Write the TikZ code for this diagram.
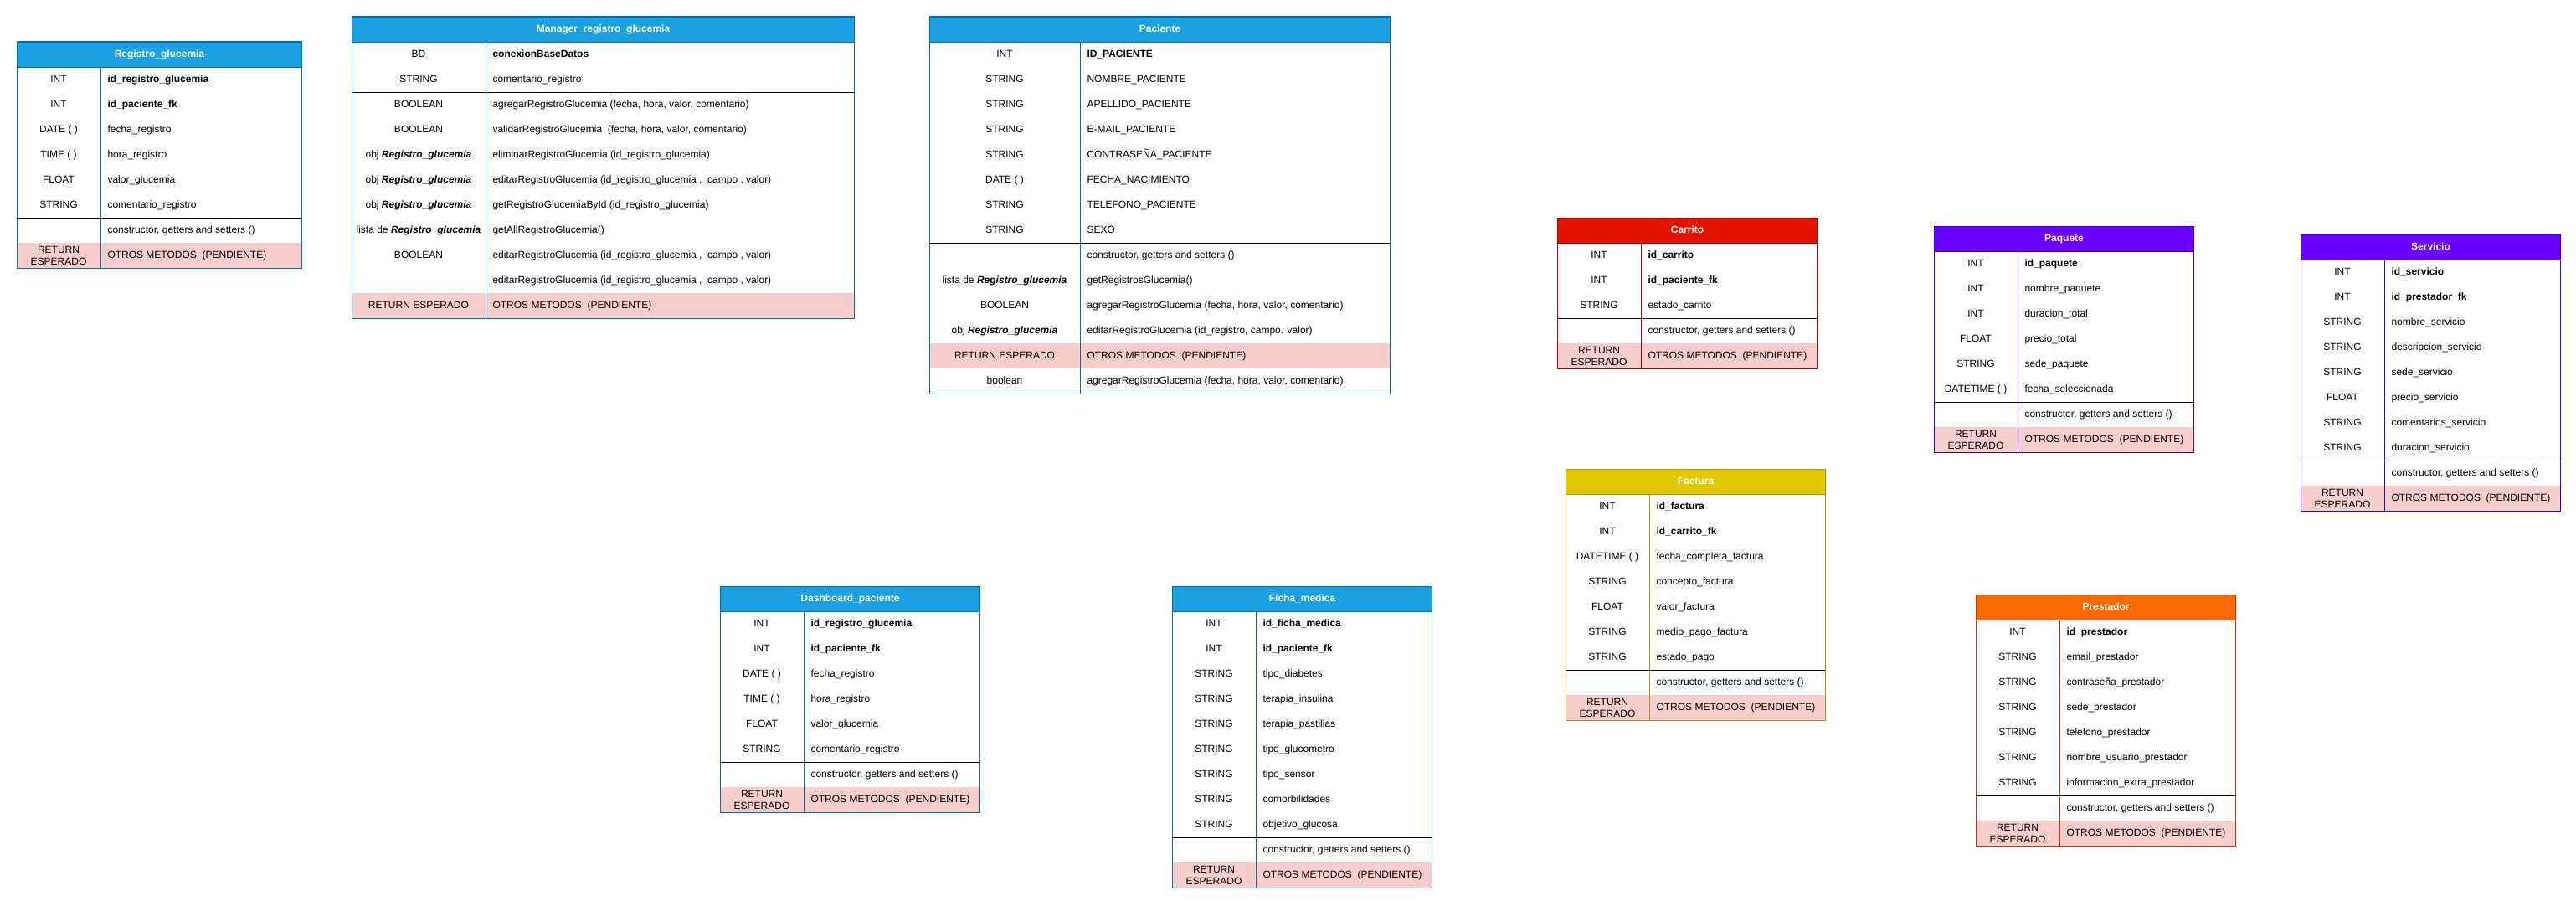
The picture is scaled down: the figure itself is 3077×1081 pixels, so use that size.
\documentclass[tikz,border=0pt]{standalone}
\usepackage{fontspec}
\setmainfont{Liberation Sans}
\usepackage{tikz}
\definecolor{azul}{HTML}{1BA1E2}
\definecolor{azulb}{HTML}{006EAF}
\definecolor{rojo}{HTML}{E51400}
\definecolor{rojob}{HTML}{B20000}
\definecolor{morado}{HTML}{6A00FF}
\definecolor{moradob}{HTML}{3700CC}
\definecolor{amarillo}{HTML}{E3C800}
\definecolor{amarillob}{HTML}{B09500}
\definecolor{naranja}{HTML}{FA6800}
\definecolor{naranjab}{HTML}{C73500}
\definecolor{rosa}{HTML}{F8CECC}

\begin{document}
\begin{tikzpicture}[x=1pt,y=-1pt,line width=1pt,
    cab/.style={anchor=north west,minimum height=30,inner sep=0,text height=8.6,text depth=2.4,text=white,font=\fontsize{12}{14}\selectfont\bfseries},
    ret/.style={inner sep=0,align=center,font=\fontsize{12}{14}\selectfont},
    tipo/.style={ret,text height=8.6,text depth=2.4},
    campo/.style={anchor=west,inner sep=0,text height=8.6,text depth=2.4,font=\fontsize{12}{14}\selectfont},
    sep/.style={black},]
    \fill[white,use as bounding box] (0,0) rectangle (3077,1081);

    \fill[rosa] (20,290) rectangle (360,320);
    \draw[azulb] (20,50) rectangle (360,320) (120,80) -- (120,320);
    \draw[sep] (20,260) -- (360,260);
    \node[cab,fill=azul,draw=azulb,minimum width=340] (regCab) at (20,50) {Registro\_glucemia};
    \foreach \tipo/\campo [count=\i] in {INT/\textbf{id\_registro\_glucemia}, INT/\textbf{id\_paciente\_fk}, DATE ( )/fecha\_registro, TIME ( )/hora\_registro, FLOAT/valor\_glucemia, STRING/comentario\_registro, {}/{constructor, getters and setters ()}}
        {\node[tipo] (regT\i) at (70,65+30*\i) {\tipo}; \node[campo] (regC\i) at (128,65+30*\i) {\campo};}
    \node[ret] (regRet) at (70,305) {RETURN\\ESPERADO};
    \node[campo] (regOtros) at (128,305) {OTROS METODOS\ \ (PENDIENTE)};

    \fill[rosa] (420,350) rectangle (1020,380);
    \draw[azulb] (420,20) rectangle (1020,380) (580,50) -- (580,380);
    \draw[sep] (420,110) -- (1020,110);
    \node[cab,fill=azul,draw=azulb,minimum width=600] (manCab) at (420,20) {Manager\_registro\_glucemia};
    \foreach \tipo/\campo [count=\i] in {BD/\textbf{conexionBaseDatos}, STRING/comentario\_registro, BOOLEAN/{agregarRegistroGlucemia (fecha, hora, valor, comentario)}, BOOLEAN/{validarRegistroGlucemia\ \ (fecha, hora, valor, comentario)}, {obj \textbf{\textit{Registro\_glucemia}}}/{eliminarRegistroGlucemia (id\_registro\_glucemia)}, {obj \textbf{\textit{Registro\_glucemia}}}/{editarRegistroGlucemia (id\_registro\_glucemia ,\ \ campo , valor)}, {obj \textbf{\textit{Registro\_glucemia}}}/{getRegistroGlucemiaById (id\_registro\_glucemia)}, {lista de \textbf{\textit{Registro\_glucemia}}}/{getAllRegistroGlucemia()}, BOOLEAN/{editarRegistroGlucemia (id\_registro\_glucemia ,\ \ campo , valor)}, {}/{editarRegistroGlucemia (id\_registro\_glucemia ,\ \ campo , valor)}}
        {\node[tipo] (manT\i) at (500,35+30*\i) {\tipo}; \node[campo] (manC\i) at (588,35+30*\i) {\campo};}
    \node[tipo] (manRet) at (500,365) {RETURN ESPERADO};
    \node[campo] (manOtros) at (588,365) {OTROS METODOS\ \ (PENDIENTE)};

    \fill[rosa] (1110,410) rectangle (1660,440);
    \draw[azulb] (1110,20) rectangle (1660,470) (1290,50) -- (1290,470);
    \draw[sep] (1110,290) -- (1660,290);
    \node[cab,fill=azul,draw=azulb,minimum width=550] (pacCab) at (1110,20) {Paciente};
    \foreach \tipo/\campo [count=\i] in {INT/\textbf{ID\_PACIENTE}, STRING/NOMBRE\_PACIENTE, STRING/APELLIDO\_PACIENTE, STRING/E-MAIL\_PACIENTE, STRING/CONTRASEÑA\_PACIENTE, DATE ( )/FECHA\_NACIMIENTO, STRING/TELEFONO\_PACIENTE, STRING/SEXO, {}/{constructor, getters and setters ()}, {lista de \textbf{\textit{Registro\_glucemia}}}/{getRegistrosGlucemia()}, BOOLEAN/{agregarRegistroGlucemia (fecha, hora, valor, comentario)}, {obj \textbf{\textit{Registro\_glucemia}}}/{editarRegistroGlucemia (id\_registro, campo. valor)}}
        {\node[tipo] (pacT\i) at (1200,35+30*\i) {\tipo}; \node[campo] (pacC\i) at (1298,35+30*\i) {\campo};}
    \node[tipo] (pacRet) at (1200,425) {RETURN ESPERADO};
    \node[campo] (pacOtros) at (1298,425) {OTROS METODOS\ \ (PENDIENTE)};
    \node[tipo] (pacBool) at (1200,455) {boolean};
    \node[campo] (pacAgregar) at (1298,455) {agregarRegistroGlucemia (fecha, hora, valor, comentario)};

    \fill[rosa] (1860,410) rectangle (2170,440);
    \draw[rojob] (1860,260) rectangle (2170,440) (1960,290) -- (1960,440);
    \draw[sep] (1860,380) -- (2170,380);
    \node[cab,fill=rojo,draw=rojob,minimum width=310] (carCab) at (1860,260) {Carrito};
    \foreach \tipo/\campo [count=\i] in {INT/\textbf{id\_carrito}, INT/\textbf{id\_paciente\_fk}, STRING/estado\_carrito, {}/{constructor, getters and setters ()}}
        {\node[tipo] (carT\i) at (1910,275+30*\i) {\tipo}; \node[campo] (carC\i) at (1968,275+30*\i) {\campo};}
    \node[ret] (carRet) at (1910,425) {RETURN\\ESPERADO};
    \node[campo] (carOtros) at (1968,425) {OTROS METODOS\ \ (PENDIENTE)};

    \fill[rosa] (2310,510) rectangle (2620,540);
    \draw[moradob] (2310,270) rectangle (2620,540) (2410,300) -- (2410,540);
    \draw[sep] (2310,480) -- (2620,480);
    \node[cab,fill=morado,draw=moradob,minimum width=310] (paqCab) at (2310,270) {Paquete};
    \foreach \tipo/\campo [count=\i] in {INT/\textbf{id\_paquete}, INT/nombre\_paquete, INT/duracion\_total, FLOAT/precio\_total, STRING/sede\_paquete, DATETIME ( )/fecha\_seleccionada, {}/{constructor, getters and setters ()}}
        {\node[tipo] (paqT\i) at (2360,285+30*\i) {\tipo}; \node[campo] (paqC\i) at (2418,285+30*\i) {\campo};}
    \node[ret] (paqRet) at (2360,525) {RETURN\\ESPERADO};
    \node[campo] (paqOtros) at (2418,525) {OTROS METODOS\ \ (PENDIENTE)};

    \fill[rosa] (2748,580) rectangle (3058,610);
    \draw[moradob] (2748,280) rectangle (3058,610) (2848,310) -- (2848,610);
    \draw[sep] (2748,550) -- (3058,550);
    \node[cab,fill=morado,draw=moradob,minimum width=310] (serCab) at (2748,280) {Servicio};
    \foreach \tipo/\campo [count=\i] in {INT/\textbf{id\_servicio}, INT/\textbf{id\_prestador\_fk}, STRING/nombre\_servicio, STRING/descripcion\_servicio, STRING/sede\_servicio, FLOAT/precio\_servicio, STRING/comentarios\_servicio, STRING/duracion\_servicio, {}/{constructor, getters and setters ()}}
        {\node[tipo] (serT\i) at (2798,295+30*\i) {\tipo}; \node[campo] (serC\i) at (2856,295+30*\i) {\campo};}
    \node[ret] (serRet) at (2798,595) {RETURN\\ESPERADO};
    \node[campo] (serOtros) at (2856,595) {OTROS METODOS\ \ (PENDIENTE)};

    \fill[rosa] (1870,830) rectangle (2180,860);
    \draw[amarillob] (1870,560) rectangle (2180,860) (1970,590) -- (1970,860);
    \draw[sep] (1870,800) -- (2180,800);
    \node[cab,fill=amarillo,draw=amarillob,minimum width=310] (facCab) at (1870,560) {Factura};
    \foreach \tipo/\campo [count=\i] in {INT/\textbf{id\_factura}, INT/\textbf{id\_carrito\_fk}, DATETIME ( )/fecha\_completa\_factura, STRING/concepto\_factura, FLOAT/valor\_factura, STRING/medio\_pago\_factura, STRING/estado\_pago, {}/{constructor, getters and setters ()}}
        {\node[tipo] (facT\i) at (1920,575+30*\i) {\tipo}; \node[campo] (facC\i) at (1978,575+30*\i) {\campo};}
    \node[ret] (facRet) at (1920,845) {RETURN\\ESPERADO};
    \node[campo] (facOtros) at (1978,845) {OTROS METODOS\ \ (PENDIENTE)};

    \fill[rosa] (2360,980) rectangle (2670,1010);
    \draw[naranjab] (2360,710) rectangle (2670,1010) (2460,740) -- (2460,1010);
    \draw[sep] (2360,950) -- (2670,950);
    \node[cab,fill=naranja,draw=naranjab,minimum width=310] (preCab) at (2360,710) {Prestador};
    \foreach \tipo/\campo [count=\i] in {INT/\textbf{id\_prestador}, STRING/email\_prestador, STRING/contraseña\_prestador, STRING/sede\_prestador, STRING/telefono\_prestador, STRING/nombre\_usuario\_prestador, STRING/informacion\_extra\_prestador, {}/{constructor, getters and setters ()}}
        {\node[tipo] (preT\i) at (2410,725+30*\i) {\tipo}; \node[campo] (preC\i) at (2468,725+30*\i) {\campo};}
    \node[ret] (preRet) at (2410,995) {RETURN\\ESPERADO};
    \node[campo] (preOtros) at (2468,995) {OTROS METODOS\ \ (PENDIENTE)};

    \fill[rosa] (860,940) rectangle (1170,970);
    \draw[azulb] (860,700) rectangle (1170,970) (960,730) -- (960,970);
    \draw[sep] (860,910) -- (1170,910);
    \node[cab,fill=azul,draw=azulb,minimum width=310] (dasCab) at (860,700) {Dashboard\_paciente};
    \foreach \tipo/\campo [count=\i] in {INT/\textbf{id\_registro\_glucemia}, INT/\textbf{id\_paciente\_fk}, DATE ( )/fecha\_registro, TIME ( )/hora\_registro, FLOAT/valor\_glucemia, STRING/comentario\_registro, {}/{constructor, getters and setters ()}}
        {\node[tipo] (dasT\i) at (910,715+30*\i) {\tipo}; \node[campo] (dasC\i) at (968,715+30*\i) {\campo};}
    \node[ret] (dasRet) at (910,955) {RETURN\\ESPERADO};
    \node[campo] (dasOtros) at (968,955) {OTROS METODOS\ \ (PENDIENTE)};

    \fill[rosa] (1400,1030) rectangle (1710,1060);
    \draw[azulb] (1400,700) rectangle (1710,1060) (1500,730) -- (1500,1060);
    \draw[sep] (1400,1000) -- (1710,1000);
    \node[cab,fill=azul,draw=azulb,minimum width=310] (ficCab) at (1400,700) {Ficha\_medica};
    \foreach \tipo/\campo [count=\i] in {INT/\textbf{id\_ficha\_medica}, INT/\textbf{id\_paciente\_fk}, STRING/tipo\_diabetes, STRING/terapia\_insulina, STRING/terapia\_pastillas, STRING/tipo\_glucometro, STRING/tipo\_sensor, STRING/comorbilidades, STRING/objetivo\_glucosa, {}/{constructor, getters and setters ()}}
        {\node[tipo] (ficT\i) at (1450,715+30*\i) {\tipo}; \node[campo] (ficC\i) at (1508,715+30*\i) {\campo};}
    \node[ret] (ficRet) at (1450,1045) {RETURN\\ESPERADO};
    \node[campo] (ficOtros) at (1508,1045) {OTROS METODOS\ \ (PENDIENTE)};
\end{tikzpicture}
\end{document}
